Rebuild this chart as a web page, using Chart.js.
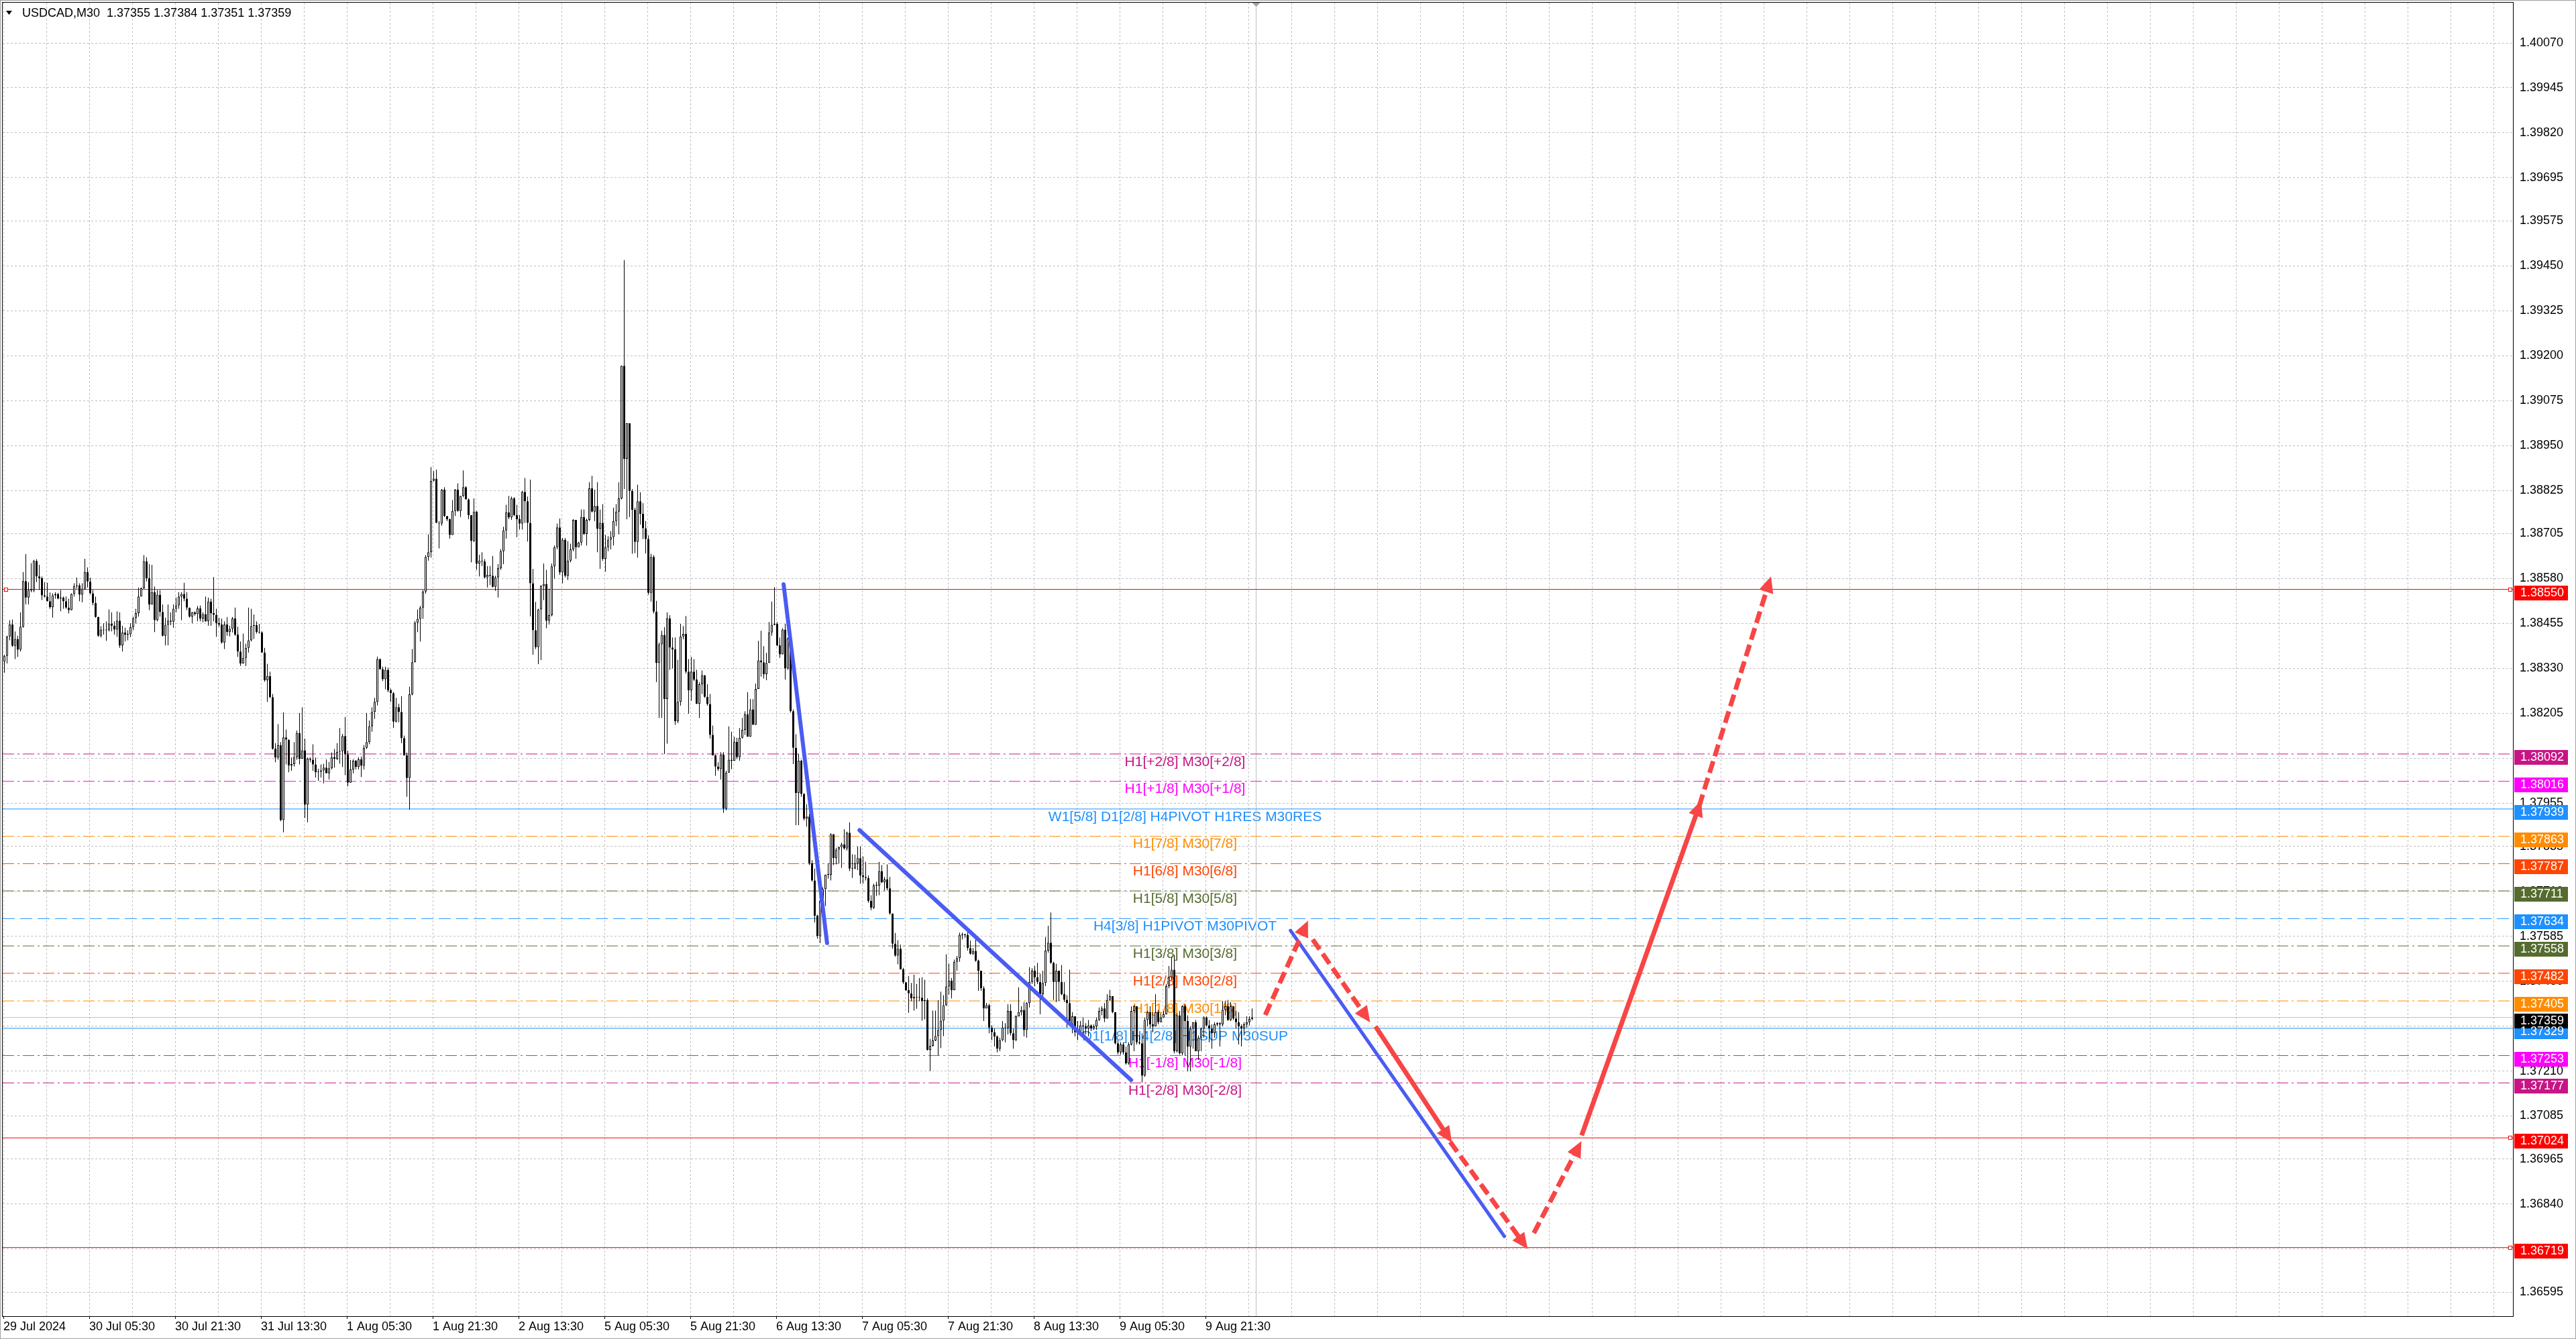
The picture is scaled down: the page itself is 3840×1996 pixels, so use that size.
<!DOCTYPE html>
<html lang="en">
<head>
  <meta charset="UTF-8" />
  <title>USDCAD,M30</title>
  <script src="https://cdn.jsdelivr.net/npm/chart.js"></script>
  <style>
    html, body { margin: 0; padding: 0; background: #fff; overflow: hidden; }
    canvas { display: block; }
  </style>
</head>
<body>
<canvas id="chart" width="3840" height="1996"></canvas>
<script>
  // M30 candles, 29 Jul 13:30 .. 9 Aug 23:30 (open of a bar = close of the one before)
  const firstOpen = 1.38349;
  const closes = [
    1.38365, 1.38419, 1.38452, 1.38393, 1.38412, 1.38382, 1.38446, 1.38573, 1.38527, 1.38548,
    1.38547, 1.38629, 1.38586, 1.38581, 1.38533, 1.38530, 1.38517, 1.38500, 1.38533, 1.38537,
    1.38525, 1.38527, 1.38517, 1.38499, 1.38492, 1.38537, 1.38559, 1.38561, 1.38535, 1.38552,
    1.38598, 1.38572, 1.38539, 1.38512, 1.38473, 1.38421, 1.38438, 1.38436, 1.38436, 1.38455,
    1.38449, 1.38438, 1.38463, 1.38394, 1.38430, 1.38424, 1.38425, 1.38445, 1.38470, 1.38484,
    1.38530, 1.38553, 1.38628, 1.38581, 1.38508, 1.38542, 1.38464, 1.38535, 1.38487, 1.38421,
    1.38451, 1.38463, 1.38460, 1.38496, 1.38505, 1.38530, 1.38537, 1.38524, 1.38499, 1.38474,
    1.38486, 1.38481, 1.38497, 1.38469, 1.38481, 1.38461, 1.38516, 1.38484, 1.38479, 1.38456,
    1.38452, 1.38402, 1.38452, 1.38431, 1.38440, 1.38469, 1.38424, 1.38377, 1.38344, 1.38359,
    1.38387, 1.38408, 1.38448, 1.38450, 1.38431, 1.38430, 1.38374, 1.38297, 1.38309, 1.38250,
    1.38107, 1.38082, 1.38116, 1.37908, 1.38138, 1.38132, 1.38060, 1.38064, 1.38083, 1.38150,
    1.38079, 1.38102, 1.37951, 1.38079, 1.38076, 1.38063, 1.38041, 1.38043, 1.38046, 1.38054,
    1.38038, 1.38052, 1.38083, 1.38079, 1.38098, 1.38100, 1.38142, 1.38091, 1.38012, 1.38049,
    1.38073, 1.38056, 1.38077, 1.38059, 1.38109, 1.38125, 1.38169, 1.38209, 1.38237, 1.38356,
    1.38328, 1.38300, 1.38326, 1.38269, 1.38261, 1.38182, 1.38222, 1.38209, 1.38136, 1.38088,
    1.38025, 1.38258, 1.38347, 1.38457, 1.38468, 1.38499, 1.38544, 1.38640, 1.38653, 1.38852,
    1.38858, 1.38735, 1.38733, 1.38827, 1.38754, 1.38745, 1.38701, 1.38768, 1.38827, 1.38768,
    1.38810, 1.38834, 1.38800, 1.38756, 1.38685, 1.38766, 1.38622, 1.38630, 1.38628, 1.38583,
    1.38590, 1.38588, 1.38557, 1.38583, 1.38609, 1.38656, 1.38714, 1.38764, 1.38750, 1.38803,
    1.38756, 1.38745, 1.38733, 1.38821, 1.38795, 1.38735, 1.38567, 1.38436, 1.38389, 1.38494,
    1.38559, 1.38565, 1.38463, 1.38478, 1.38614, 1.38667, 1.38722, 1.38597, 1.38688, 1.38588,
    1.38630, 1.38661, 1.38743, 1.38667, 1.38680, 1.38751, 1.38704, 1.38743, 1.38831, 1.38766,
    1.38782, 1.38719, 1.38735, 1.38635, 1.38667, 1.38688, 1.38695, 1.38740, 1.38766, 1.38803,
    1.39172, 1.38913, 1.39012, 1.38824, 1.38771, 1.38682, 1.38795, 1.38760, 1.38720, 1.38690,
    1.38540, 1.38640, 1.38488, 1.38345, 1.38397, 1.38423, 1.38245, 1.38469, 1.38388, 1.38383,
    1.38183, 1.38237, 1.38419, 1.38426, 1.38321, 1.38269, 1.38321, 1.38299, 1.38232, 1.38286,
    1.38311, 1.38251, 1.38231, 1.38145, 1.38088, 1.38057, 1.38050, 1.38090, 1.37940, 1.38040,
    1.38076, 1.38073, 1.38126, 1.38083, 1.38137, 1.38159, 1.38202, 1.38140, 1.38216, 1.38173,
    1.38273, 1.38352, 1.38347, 1.38314, 1.38345, 1.38430, 1.38451, 1.38454, 1.38394, 1.38369,
    1.38438, 1.38330, 1.38413, 1.38211, 1.38109, 1.37983, 1.38073, 1.37981, 1.37912, 1.37918,
    1.37788, 1.37740, 1.37642, 1.37585, 1.37683, 1.37716, 1.37756, 1.37756, 1.37869, 1.37802,
    1.37826, 1.37833, 1.37840, 1.37829, 1.37873, 1.37773, 1.37773, 1.37788, 1.37802, 1.37754,
    1.37750, 1.37747, 1.37683, 1.37664, 1.37726, 1.37726, 1.37766, 1.37735, 1.37743, 1.37718,
    1.37648, 1.37564, 1.37531, 1.37550, 1.37493, 1.37457, 1.37435, 1.37426, 1.37412, 1.37416,
    1.37414, 1.37414, 1.37404, 1.37407, 1.37269, 1.37280, 1.37295, 1.37307, 1.37324, 1.37350,
    1.37393, 1.37445, 1.37461, 1.37435, 1.37514, 1.37524, 1.37589, 1.37588, 1.37589, 1.37552,
    1.37536, 1.37544, 1.37517, 1.37489, 1.37440, 1.37384, 1.37393, 1.37331, 1.37318, 1.37306,
    1.37272, 1.37296, 1.37331, 1.37329, 1.37377, 1.37315, 1.37296, 1.37362, 1.37374, 1.37380,
    1.37324, 1.37399, 1.37458, 1.37489, 1.37471, 1.37458, 1.37424, 1.37455, 1.37545, 1.37567,
    1.37511, 1.37458, 1.37489, 1.37458, 1.37424, 1.37408, 1.37399, 1.37337, 1.37362, 1.37318,
    1.37315, 1.37337, 1.37334, 1.37328, 1.37337, 1.37328, 1.37334, 1.37352, 1.37377, 1.37384,
    1.37356, 1.37408, 1.37418, 1.37374, 1.37287, 1.37262, 1.37284, 1.37262, 1.37231, 1.37284,
    1.37377, 1.37390, 1.37290, 1.37287, 1.37197, 1.37352, 1.37374, 1.37340, 1.37334, 1.37374,
    1.37346, 1.37359, 1.37368, 1.37446, 1.37471, 1.37492, 1.37265, 1.37365, 1.37259, 1.37390,
    1.37349, 1.37278, 1.37328, 1.37346, 1.37265, 1.37303, 1.37328, 1.37359, 1.37337, 1.37328,
    1.37315, 1.37340, 1.37343, 1.37340, 1.37380, 1.37390, 1.37352, 1.37390, 1.37356, 1.37346,
    1.37334, 1.37328, 1.37340, 1.37346, 1.37355, 1.37359
  ];
  const highs = [
    1.38368, 1.38421, 1.38464, 1.38466, 1.38433, 1.38421, 1.38486, 1.38598, 1.38648, 1.38570,
    1.38623, 1.38632, 1.38634, 1.38618, 1.38586, 1.38570, 1.38568, 1.38541, 1.38539, 1.38542,
    1.38540, 1.38548, 1.38530, 1.38530, 1.38524, 1.38539, 1.38567, 1.38583, 1.38567, 1.38567,
    1.38635, 1.38611, 1.38583, 1.38548, 1.38530, 1.38474, 1.38448, 1.38456, 1.38461, 1.38494,
    1.38486, 1.38461, 1.38489, 1.38486, 1.38449, 1.38443, 1.38436, 1.38456, 1.38474, 1.38496,
    1.38555, 1.38555, 1.38645, 1.38639, 1.38620, 1.38618, 1.38558, 1.38548, 1.38548, 1.38508,
    1.38471, 1.38508, 1.38486, 1.38508, 1.38527, 1.38542, 1.38542, 1.38568, 1.38542, 1.38477,
    1.38487, 1.38489, 1.38504, 1.38505, 1.38486, 1.38530, 1.38527, 1.38524, 1.38584, 1.38496,
    1.38471, 1.38469, 1.38461, 1.38473, 1.38449, 1.38473, 1.38499, 1.38446, 1.38405, 1.38427,
    1.38399, 1.38499, 1.38496, 1.38480, 1.38461, 1.38454, 1.38433, 1.38387, 1.38343, 1.38321,
    1.38259, 1.38122, 1.38175, 1.38125, 1.38208, 1.38160, 1.38125, 1.38082, 1.38125, 1.38157,
    1.38206, 1.38222, 1.38135, 1.38082, 1.38082, 1.38119, 1.38082, 1.38051, 1.38063, 1.38065,
    1.38077, 1.38070, 1.38096, 1.38106, 1.38122, 1.38164, 1.38148, 1.38195, 1.38101, 1.38075,
    1.38077, 1.38075, 1.38083, 1.38085, 1.38117, 1.38206, 1.38185, 1.38222, 1.38248, 1.38363,
    1.38358, 1.38335, 1.38335, 1.38332, 1.38274, 1.38264, 1.38248, 1.38232, 1.38253, 1.38143,
    1.38096, 1.38279, 1.38384, 1.38462, 1.38494, 1.38504, 1.38548, 1.38645, 1.38703, 1.38890,
    1.38879, 1.38883, 1.38740, 1.38829, 1.38834, 1.38754, 1.38747, 1.38798, 1.38829, 1.38845,
    1.38810, 1.38881, 1.38837, 1.38803, 1.38756, 1.38803, 1.38768, 1.38646, 1.38653, 1.38634,
    1.38615, 1.38615, 1.38643, 1.38588, 1.38620, 1.38662, 1.38724, 1.38785, 1.38810, 1.38808,
    1.38806, 1.38785, 1.38756, 1.38824, 1.38860, 1.38808, 1.38855, 1.38607, 1.38515, 1.38496,
    1.38562, 1.38622, 1.38604, 1.38552, 1.38622, 1.38672, 1.38733, 1.38747, 1.38693, 1.38693,
    1.38684, 1.38677, 1.38745, 1.38677, 1.38682, 1.38772, 1.38772, 1.38747, 1.38848, 1.38866,
    1.38827, 1.38848, 1.38772, 1.38787, 1.38701, 1.38698, 1.38712, 1.38777, 1.38787, 1.38848,
    1.39172, 1.39466, 1.39012, 1.39009, 1.38829, 1.38777, 1.38841, 1.38820, 1.38790, 1.38740,
    1.38700, 1.38649, 1.38645, 1.38518, 1.38402, 1.38435, 1.38445, 1.38486, 1.38478, 1.38416,
    1.38416, 1.38354, 1.38454, 1.38448, 1.38476, 1.38356, 1.38362, 1.38356, 1.38326, 1.38292,
    1.38324, 1.38288, 1.38286, 1.38259, 1.38171, 1.38090, 1.38069, 1.38097, 1.38097, 1.38045,
    1.38169, 1.38154, 1.38140, 1.38137, 1.38164, 1.38192, 1.38211, 1.38264, 1.38245, 1.38245,
    1.38288, 1.38407, 1.38435, 1.38392, 1.38373, 1.38459, 1.38516, 1.38556, 1.38459, 1.38416,
    1.38442, 1.38454, 1.38416, 1.38416, 1.38216, 1.38147, 1.38092, 1.38076, 1.37983, 1.37952,
    1.37926, 1.37797, 1.37773, 1.37645, 1.37707, 1.37721, 1.37756, 1.37788, 1.37871, 1.37816,
    1.37831, 1.37835, 1.37845, 1.37883, 1.37876, 1.37902, 1.37813, 1.37812, 1.37835, 1.37835,
    1.37807, 1.37792, 1.37754, 1.37699, 1.37731, 1.37737, 1.37792, 1.37783, 1.37750, 1.37785,
    1.37750, 1.37648, 1.37594, 1.37574, 1.37562, 1.37497, 1.37457, 1.37474, 1.37455, 1.37478,
    1.37452, 1.37469, 1.37471, 1.37464, 1.37412, 1.37299, 1.37378, 1.37378, 1.37407, 1.37431,
    1.37421, 1.37535, 1.37509, 1.37469, 1.37520, 1.37530, 1.37595, 1.37595, 1.37592, 1.37596,
    1.37573, 1.37552, 1.37576, 1.37520, 1.37483, 1.37446, 1.37399, 1.37397, 1.37337, 1.37328,
    1.37309, 1.37303, 1.37349, 1.37343, 1.37396, 1.37396, 1.37328, 1.37365, 1.37443, 1.37390,
    1.37402, 1.37402, 1.37499, 1.37496, 1.37502, 1.37511, 1.37480, 1.37489, 1.37583, 1.37614,
    1.37651, 1.37514, 1.37508, 1.37480, 1.37505, 1.37458, 1.37421, 1.37492, 1.37374, 1.37359,
    1.37349, 1.37349, 1.37359, 1.37343, 1.37352, 1.37340, 1.37340, 1.37359, 1.37387, 1.37390,
    1.37399, 1.37424, 1.37436, 1.37418, 1.37374, 1.37296, 1.37290, 1.37290, 1.37278, 1.37290,
    1.37390, 1.37393, 1.37384, 1.37309, 1.37315, 1.37359, 1.37377, 1.37390, 1.37374, 1.37424,
    1.37380, 1.37371, 1.37377, 1.37452, 1.37502, 1.37527, 1.37533, 1.37371, 1.37377, 1.37393,
    1.37396, 1.37365, 1.37334, 1.37346, 1.37352, 1.37309, 1.37331, 1.37362, 1.37362, 1.37352,
    1.37340, 1.37346, 1.37346, 1.37346, 1.37405, 1.37405, 1.37408, 1.37402, 1.37380, 1.37377,
    1.37374, 1.37340, 1.37346, 1.37362, 1.37362, 1.37384
  ];
  const lows = [
    1.38318, 1.38344, 1.38408, 1.38390, 1.38356, 1.38362, 1.38377, 1.38443, 1.38508, 1.38508,
    1.38542, 1.38542, 1.38570, 1.38548, 1.38520, 1.38527, 1.38516, 1.38496, 1.38471, 1.38524,
    1.38522, 1.38489, 1.38496, 1.38496, 1.38483, 1.38491, 1.38530, 1.38552, 1.38517, 1.38514,
    1.38548, 1.38555, 1.38536, 1.38505, 1.38471, 1.38418, 1.38416, 1.38424, 1.38407, 1.38433,
    1.38433, 1.38424, 1.38418, 1.38387, 1.38377, 1.38405, 1.38408, 1.38417, 1.38436, 1.38455,
    1.38474, 1.38533, 1.38552, 1.38572, 1.38492, 1.38514, 1.38431, 1.38461, 1.38474, 1.38419,
    1.38394, 1.38394, 1.38450, 1.38443, 1.38486, 1.38496, 1.38464, 1.38517, 1.38492, 1.38471,
    1.38456, 1.38477, 1.38461, 1.38461, 1.38458, 1.38460, 1.38449, 1.38449, 1.38461, 1.38418,
    1.38446, 1.38399, 1.38384, 1.38421, 1.38419, 1.38430, 1.38421, 1.38362, 1.38337, 1.38344,
    1.38337, 1.38374, 1.38405, 1.38412, 1.38427, 1.38427, 1.38373, 1.38293, 1.38237, 1.38247,
    1.38104, 1.38069, 1.38076, 1.37905, 1.37874, 1.38063, 1.38041, 1.38045, 1.38057, 1.38076,
    1.38063, 1.38082, 1.37914, 1.37902, 1.38069, 1.38045, 1.38026, 1.38017, 1.38026, 1.38010,
    1.38038, 1.38021, 1.38049, 1.38054, 1.38075, 1.38065, 1.38056, 1.38033, 1.38002, 1.38014,
    1.38038, 1.38049, 1.38049, 1.38028, 1.38049, 1.38106, 1.38119, 1.38154, 1.38190, 1.38227,
    1.38326, 1.38295, 1.38272, 1.38264, 1.38237, 1.38164, 1.38180, 1.38180, 1.38122, 1.38088,
    1.37973, 1.37937, 1.38255, 1.38347, 1.38431, 1.38405, 1.38468, 1.38538, 1.38630, 1.38638,
    1.38850, 1.38735, 1.38664, 1.38727, 1.38751, 1.38740, 1.38691, 1.38701, 1.38754, 1.38766,
    1.38751, 1.38806, 1.38800, 1.38745, 1.38625, 1.38681, 1.38604, 1.38586, 1.38615, 1.38580,
    1.38555, 1.38562, 1.38555, 1.38546, 1.38527, 1.38604, 1.38620, 1.38691, 1.38745, 1.38743,
    1.38754, 1.38695, 1.38716, 1.38716, 1.38735, 1.38683, 1.38475, 1.38368, 1.38384, 1.38342,
    1.38353, 1.38520, 1.38442, 1.38452, 1.38475, 1.38580, 1.38661, 1.38590, 1.38567, 1.38583,
    1.38576, 1.38625, 1.38656, 1.38635, 1.38670, 1.38672, 1.38701, 1.38672, 1.38740, 1.38764,
    1.38740, 1.38653, 1.38607, 1.38630, 1.38599, 1.38656, 1.38661, 1.38672, 1.38726, 1.38703,
    1.38800, 1.38829, 1.38745, 1.38751, 1.38649, 1.38651, 1.38638, 1.38730, 1.38690, 1.38650,
    1.38535, 1.38516, 1.38483, 1.38292, 1.38192, 1.38192, 1.38092, 1.38121, 1.38326, 1.38330,
    1.38173, 1.38178, 1.38226, 1.38411, 1.38316, 1.38204, 1.38240, 1.38295, 1.38231, 1.38192,
    1.38259, 1.38248, 1.38226, 1.38135, 1.38088, 1.38031, 1.38045, 1.38021, 1.37928, 1.37935,
    1.38040, 1.38050, 1.38073, 1.38078, 1.38073, 1.38135, 1.38145, 1.38140, 1.38140, 1.38173,
    1.38173, 1.38280, 1.38307, 1.38302, 1.38297, 1.38345, 1.38421, 1.38450, 1.38392, 1.38359,
    1.38369, 1.38299, 1.38326, 1.38207, 1.38064, 1.37894, 1.37894, 1.37973, 1.37907, 1.37890,
    1.37783, 1.37737, 1.37623, 1.37578, 1.37566, 1.37650, 1.37669, 1.37745, 1.37740, 1.37783,
    1.37785, 1.37788, 1.37775, 1.37826, 1.37823, 1.37766, 1.37747, 1.37772, 1.37769, 1.37731,
    1.37731, 1.37740, 1.37678, 1.37657, 1.37661, 1.37697, 1.37699, 1.37733, 1.37712, 1.37712,
    1.37645, 1.37550, 1.37528, 1.37507, 1.37493, 1.37452, 1.37433, 1.37372, 1.37404, 1.37378,
    1.37383, 1.37404, 1.37350, 1.37354, 1.37267, 1.37210, 1.37278, 1.37293, 1.37254, 1.37274,
    1.37307, 1.37391, 1.37423, 1.37412, 1.37471, 1.37489, 1.37514, 1.37576, 1.37580, 1.37545,
    1.37534, 1.37533, 1.37514, 1.37433, 1.37433, 1.37349, 1.37387, 1.37315, 1.37296, 1.37278,
    1.37262, 1.37265, 1.37293, 1.37290, 1.37312, 1.37309, 1.37272, 1.37293, 1.37362, 1.37365,
    1.37306, 1.37303, 1.37387, 1.37452, 1.37446, 1.37452, 1.37368, 1.37418, 1.37446, 1.37539,
    1.37508, 1.37408, 1.37402, 1.37405, 1.37421, 1.37402, 1.37331, 1.37334, 1.37315, 1.37306,
    1.37296, 1.37309, 1.37312, 1.37312, 1.37306, 1.37321, 1.37324, 1.37324, 1.37349, 1.37365,
    1.37346, 1.37356, 1.37405, 1.37371, 1.37284, 1.37256, 1.37256, 1.37256, 1.37228, 1.37228,
    1.37281, 1.37265, 1.37284, 1.37284, 1.37178, 1.37194, 1.37334, 1.37328, 1.37318, 1.37359,
    1.37340, 1.37346, 1.37359, 1.37371, 1.37440, 1.37464, 1.37259, 1.37262, 1.37256, 1.37253,
    1.37253, 1.37209, 1.37209, 1.37272, 1.37265, 1.37241, 1.37265, 1.37303, 1.37334, 1.37290,
    1.37272, 1.37303, 1.37334, 1.37278, 1.37334, 1.37365, 1.37349, 1.37349, 1.37352, 1.37328,
    1.37284, 1.37278, 1.37309, 1.37331, 1.37337, 1.37351
  ];

  const dateLabels = [
    '29 Jul 2024', '30 Jul 05:30', '30 Jul 21:30', '31 Jul 13:30', '1 Aug 05:30',
    '1 Aug 21:30', '2 Aug 13:30', '5 Aug 05:30', '5 Aug 21:30', '6 Aug 13:30',
    '7 Aug 05:30', '7 Aug 21:30', '8 Aug 13:30', '9 Aug 05:30', '9 Aug 21:30'
  ];
  const priceTicks = [
    1.40070, 1.39945, 1.39820, 1.39695, 1.39575, 1.39450, 1.39325, 1.39200, 1.39075, 1.38950,
    1.38825, 1.38705, 1.38580, 1.38455, 1.38330, 1.38205, 1.38080, 1.37955, 1.37835, 1.37710,
    1.37585, 1.37460, 1.37335, 1.37210, 1.37085, 1.36965, 1.36840, 1.36715, 1.36595
  ];

  // Murrey-style levels drawn by the indicator
  const levelPrices = [
    1.38092, 1.38016, 1.37939, 1.37863, 1.37787, 1.37711, 1.37634,
    1.37558, 1.37482, 1.37405, 1.37329, 1.37253, 1.37177
  ];
  const levelNames = [
    'H1[+2/8] M30[+2/8]', 'H1[+1/8] M30[+1/8]', 'W1[5/8] D1[2/8] H4PIVOT H1RES M30RES',
    'H1[7/8] M30[7/8]', 'H1[6/8] M30[6/8]', 'H1[5/8] M30[5/8]', 'H4[3/8] H1PIVOT M30PIVOT',
    'H1[3/8] M30[3/8]', 'H1[2/8] M30[2/8]', 'H1[1/8] M30[1/8]', 'D1[1/8] H4[2/8] H1SUP M30SUP',
    'H1[-1/8] M30[-1/8]', 'H1[-2/8] M30[-2/8]'
  ];
  const redLevels = [1.38550, 1.37024, 1.36719];

  // drawn objects, anchored at (bar index, price)
  const trendFrom = [[290.4, 1.38564], [318.7, 1.37880], [479.3, 1.37601]];
  const trendTo   = [[306.6, 1.37566], [419.9, 1.37185], [559.0, 1.36750]];
  const arrowFrom = [[469.9, 1.37366], [487.6, 1.37576], [511.0, 1.37334], [538.8, 1.37013],
                     [570.0, 1.36759], [587.8, 1.37031], [631.6, 1.37947]];
  const arrowTo   = [[484.9, 1.37613], [507.7, 1.37359], [538.2, 1.37025], [566.4, 1.36728],
                     [586.7, 1.37000], [631.6, 1.37947], [657.7, 1.38570]];
  const arrowDashed = [true, true, false, true, true, false, true];

  const titleText = 'USDCAD,M30  1.37355 1.37384 1.37351 1.37359';

  // ---- styles / layout ----
  const X_MIN = -0.625, X_MAX = 934.875;
  const Y_MIN = 1.36528, Y_MAX = 1.40182;
  const LABEL_BAR = 440;
  const DASHDOT = [17, 5, 3, 5];
  const DASH = [18, 8];
  const levelStyle = [
    ['#C71585', DASHDOT], ['#FF00FF', DASHDOT], ['#1E90FF', []], ['#FF8C00', DASHDOT],
    ['#FF4500', DASHDOT], ['#556B2F', DASHDOT], ['#1E90FF', DASH], ['#556B2F', DASHDOT],
    ['#FF4500', DASHDOT], ['#FF8C00', DASHDOT], ['#1E90FF', []], ['#FF00FF', DASHDOT],
    ['#C71585', DASHDOT]
  ];
  const FONT = 'Liberation Sans';
  const ARROW_RED = '#F84545';
  const TREND_BLUE = '#4A5CF2';

  const lastClose = closes[closes.length - 1];
  const opens = closes.map((c, i) => i === 0 ? firstOpen : closes[i - 1]);

  const bodies = closes.map((c, i) => ({ x: i, y: [opens[i], c] }));
  const wicks = closes.map((c, i) => ({
    x: i, y: [Math.min(lows[i], opens[i], c), Math.max(highs[i], opens[i], c)]
  }));

  function hLine(p, color, dash, order) {
    return {
      type: 'line', data: [{ x: X_MIN, y: p }, { x: X_MAX, y: p }],
      borderColor: color, borderWidth: 1, borderDash: dash,
      pointRadius: 0, order: order
    };
  }

  const datasets = [];
  levelPrices.forEach((p, i) => datasets.push(hLine(p, levelStyle[i][0], levelStyle[i][1], 10)));
  redLevels.forEach(p => datasets.push(hLine(p, '#FF0000', [], 9)));
  datasets.push(hLine(lastClose, '#C0C0C0', [], 9));
  // current bar marker
  datasets.push({
    type: 'line', data: [{ x: 466.5, y: Y_MIN }, { x: 466.5, y: Y_MAX }],
    borderColor: '#C0C0C0', borderWidth: 1, pointRadius: 0, order: 11
  });
  datasets.push({
    type: 'bar', data: wicks, backgroundColor: '#000', borderWidth: 0,
    barThickness: 1, grouped: false, minBarLength: 1, inflateAmount: 0, order: 5
  });
  datasets.push({
    type: 'bar', data: bodies,
    backgroundColor: closes.map((c, i) => c >= opens[i] ? '#FFFFFF' : '#000000'),
    borderColor: '#000', borderWidth: 1, borderSkipped: false,
    barThickness: 3, grouped: false, minBarLength: 1, inflateAmount: 0, order: 4
  });
  trendFrom.forEach((a, i) => datasets.push({
    type: 'line', data: [{ x: a[0], y: a[1] }, { x: trendTo[i][0], y: trendTo[i][1] }],
    borderColor: TREND_BLUE, borderWidth: i === 2 ? 5 : 6, borderCapStyle: 'round',
    pointRadius: 0, order: 2
  }));
  arrowFrom.forEach((a, i) => datasets.push({
    type: 'line', data: [{ x: a[0], y: a[1] }, { x: arrowTo[i][0], y: arrowTo[i][1] }],
    borderColor: ARROW_RED, borderWidth: 7, borderDash: arrowDashed[i] ? [18, 8] : [],
    pointRadius: 0, order: 1
  }));

  const xTickValues = [];
  for (let k = 0; 16 * k - 0.375 <= X_MAX; k++) xTickValues.push(16 * k - 0.375);

  const mtPlugin = {
    id: 'mt4',
    beforeDraw(chart) {
      const ctx = chart.ctx;
      ctx.save();
      ctx.fillStyle = '#fff';
      ctx.fillRect(0, 0, chart.width, chart.height);
      ctx.restore();
    },
    beforeDatasetsDraw(chart) {
      const { ctx, scales: { x, y } } = chart;
      ctx.save();
      ctx.font = '21px "' + FONT + '"';
      ctx.textAlign = 'center';
      ctx.textBaseline = 'middle';
      const cx = x.getPixelForValue(LABEL_BAR);
      levelPrices.forEach((p, i) => {
        ctx.fillStyle = levelStyle[i][0];
        ctx.fillText(levelNames[i], cx, y.getPixelForValue(p) + 12);
      });
      ctx.restore();
    },
    afterDatasetsDraw(chart) {
      const { ctx, chartArea: ca, scales: { x, y } } = chart;
      ctx.save();
      // arrow heads
      ctx.fillStyle = ARROW_RED;
      arrowFrom.forEach((a, i) => {
        const x0 = x.getPixelForValue(a[0]), y0 = y.getPixelForValue(a[1]);
        const x1 = x.getPixelForValue(arrowTo[i][0]), y1 = y.getPixelForValue(arrowTo[i][1]);
        const len = Math.hypot(x1 - x0, y1 - y0);
        const ux = (x1 - x0) / len, uy = (y1 - y0) / len;
        const tx = x1 + ux * 9, ty = y1 + uy * 9;
        const bx = tx - ux * 24, by = ty - uy * 24;
        ctx.beginPath();
        ctx.moveTo(tx, ty);
        ctx.lineTo(bx - uy * 11, by + ux * 11);
        ctx.lineTo(bx + uy * 11, by - ux * 11);
        ctx.closePath();
        ctx.fill();
      });
      // anchor squares of the red lines
      ctx.strokeStyle = '#FF0000';
      ctx.fillStyle = '#fff';
      ctx.lineWidth = 1;
      redLevels.forEach((p, i) => {
        const py = Math.round(y.getPixelForValue(p));
        ctx.fillRect(ca.right - 6, py - 2, 4, 4);
        ctx.strokeRect(ca.right - 6.5, py - 2.5, 5, 5);
        if (i === 0) {
          ctx.fillRect(ca.left + 3, py - 2, 4, 4);
          ctx.strokeRect(ca.left + 2.5, py - 2.5, 5, 5);
        }
      });
      ctx.restore();
    },
    afterDraw(chart) {
      const { ctx, chartArea: ca, scales: { y } } = chart;
      ctx.save();
      // frame
      ctx.strokeStyle = '#000';
      ctx.lineWidth = 1;
      ctx.strokeRect(ca.left - 0.5, ca.top - 0.5, ca.right - ca.left + 1, ca.bottom - ca.top + 1);
      ctx.strokeStyle = '#A0A0A0';
      ctx.strokeRect(0.5, 0.5, chart.width - 1, chart.height - 1);
      // price boxes on the scale
      const boxes = [];
      redLevels.forEach(p => boxes.push([p, '#FF0000']));
      levelPrices.forEach((p, i) => boxes.push([p, levelStyle[i][0]]));
      boxes.push([lastClose, '#000000']);
      boxes.sort((a, b) => b[0] - a[0]);
      ctx.font = '18px "' + FONT + '"';
      ctx.textAlign = 'left';
      ctx.textBaseline = 'middle';
      boxes.forEach(b => {
        const py = y.getPixelForValue(b[0]);
        ctx.fillStyle = b[1];
        ctx.fillRect(ca.right + 2, Math.round(py) - 6, 80, 22);
      });
      // bid box sits on top of its neighbours
      const bidY = Math.round(y.getPixelForValue(lastClose));
      ctx.fillStyle = '#000';
      ctx.fillRect(ca.right + 2, bidY - 6, 80, 22);
      boxes.forEach(b => {
        const py = y.getPixelForValue(b[0]);
        ctx.fillStyle = '#fff';
        ctx.fillText(b[0].toFixed(5), ca.right + 11, Math.round(py) + 5);
      });
      // title
      ctx.fillStyle = '#000';
      ctx.beginPath();
      ctx.moveTo(9, 16); ctx.lineTo(18, 16); ctx.lineTo(13.5, 22);
      ctx.closePath();
      ctx.fill();
      ctx.font = '18px "' + FONT + '"';
      ctx.textBaseline = 'middle';
      ctx.fillText(titleText, 33, 20);
      // chart shift marker
      const sx = chart.scales.x.getPixelForValue(466.5);
      ctx.fillStyle = '#A0A0A0';
      ctx.beginPath();
      ctx.moveTo(sx - 6, ca.top); ctx.lineTo(sx + 6, ca.top); ctx.lineTo(sx, ca.top + 6);
      ctx.closePath();
      ctx.fill();
      ctx.restore();
    }
  };

  new Chart(document.getElementById('chart').getContext('2d'), {
    type: 'bar',
    data: { datasets },
    options: {
      responsive: false,
      devicePixelRatio: 1,
      animation: false,
      events: [],
      layout: { padding: { left: 4, top: 4, right: 0, bottom: 0 } },
      plugins: { legend: { display: false }, tooltip: { enabled: false } },
      scales: {
        x: {
          type: 'linear', min: X_MIN, max: X_MAX, offset: false,
          grid: {
            color: '#C0C0C0', offset: false, drawTicks: true, tickLength: 4,
            tickColor: c => (c.tick && c.tick.label) ? '#000' : 'rgba(0,0,0,0)'
          },
          border: { display: false, dash: [3, 3] },
          afterBuildTicks: s => { s.ticks = xTickValues.map(v => ({ value: v })); },
          afterFit: s => {
            s.height = 34;
            s.paddingLeft = 0; s.paddingRight = 0; s.paddingTop = 0; s.paddingBottom = 0;
          },
          ticks: {
            autoSkip: false, maxRotation: 0, minRotation: 0, align: 'start', padding: 1,
            color: '#000', font: { family: FONT, size: 18 },
            callback: (v, i) => (i % 2 === 0 && i / 2 < dateLabels.length) ? dateLabels[i / 2] : ''
          }
        },
        y: {
          type: 'linear', position: 'right', min: Y_MIN, max: Y_MAX,
          grid: { color: '#C0C0C0', drawTicks: false },
          border: { display: false, dash: [3, 3] },
          afterBuildTicks: s => { s.ticks = priceTicks.map(v => ({ value: v })); },
          afterFit: s => {
            s.width = 94;
            s.paddingLeft = 0; s.paddingRight = 0; s.paddingTop = 0; s.paddingBottom = 0;
          },
          ticks: {
            autoSkip: false, padding: 10, color: '#000',
            font: { family: FONT, size: 18 },
            callback: v => v.toFixed(5)
          }
        }
      }
    },
    plugins: [mtPlugin]
  });
</script>
</body>
</html>
